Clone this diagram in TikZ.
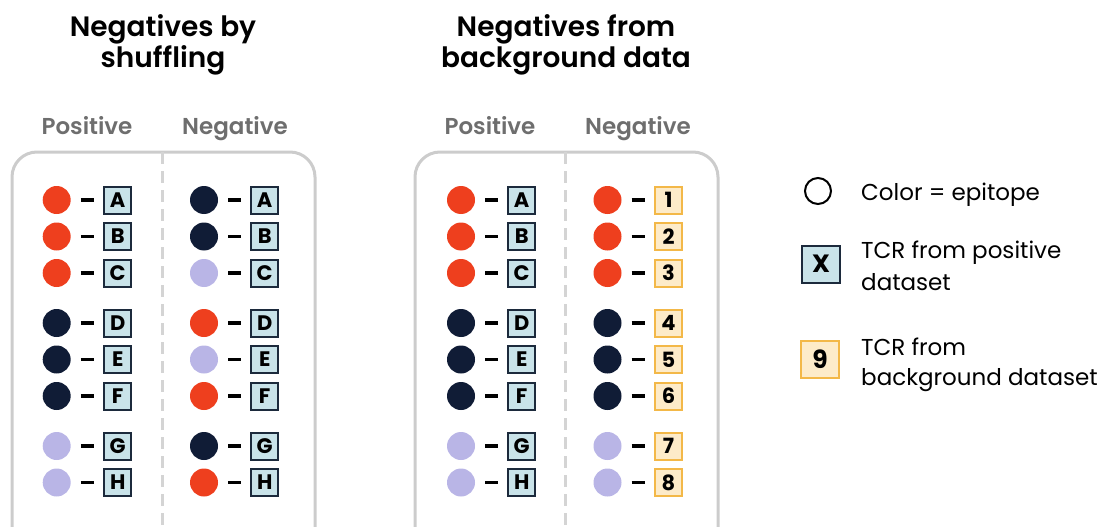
\documentclass[tikz,border=0pt]{standalone}
\usepackage{fontspec}
\setmainfont{Poppins}[BoldFont={Poppins SemiBold}]
\newfontfamily\heavyfont{Poppins Bold}
\definecolor{epired}{HTML}{EE3F1E}
\definecolor{epinavy}{HTML}{101C36}
\definecolor{epilav}{HTML}{B9B5E6}
\definecolor{boxblue}{HTML}{C9E3E9}
\definecolor{boxline}{HTML}{1C2A3C}
\definecolor{boxorange}{HTML}{F3B848}
\definecolor{boxcream}{HTML}{FDEBC9}
\definecolor{framegray}{HTML}{CCCCCC}
\definecolor{headgray}{HTML}{6E6E6E}
\begin{document}
\begin{tikzpicture}[x=1pt,y=-1pt,
  dot/.style={circle, minimum size=28pt, inner sep=0pt, draw=none},
  tcrbox/.style={rectangle, line width=2pt, minimum width=27pt, minimum height=27pt,
    inner sep=0pt, font=\fontsize{21}{21}\selectfont\heavyfont},
  posbox/.style={tcrbox, draw=boxline, fill=boxblue},
  bgbox/.style={tcrbox, draw=boxorange, fill=boxcream},
  legbox/.style={tcrbox, minimum width=38pt, minimum height=37pt,
    font=\fontsize{25}{25}\selectfont\heavyfont},
  link/.style={line width=3.5pt, shorten <=10pt, shorten >=9.5pt},
  frame/.style={draw=framegray, line width=3pt, rounded corners=25pt},
  divider/.style={draw=framegray!85, line width=3pt, dash pattern=on 12pt off 7pt},
  title/.style={anchor=base, font=\fontsize{28}{31}\selectfont\bfseries},
  colhead/.style={anchor=base, text=headgray, font=\fontsize{23}{24}\selectfont\bfseries},
  legtext/.style={anchor=base west, inner sep=0pt, font=\fontsize{23}{28}\selectfont},
]
\useasboundingbox (0,0) rectangle (1101,527);
\clip (0,0) rectangle (1101,527);

% titles
\node[title] (t1a) at (163,37) {Negatives by};
\node[title] (t1b) at (163,67) {shuffling};
\node[title] (t2a) at (566,37) {Negatives from};
\node[title] (t2b) at (566,67) {background data};

% column headers
\node[colhead] (h1p) at (87,135) {Positive};
\node[colhead] (h1n) at (235,135) {Negative};
\node[colhead] (h2p) at (490,135) {Positive};
\node[colhead] (h2n) at (638,135) {Negative};

% panel frames and dividers
\draw[frame] (12,152) rectangle (315,600);
\draw[frame] (415,152) rectangle (718,600);
\coordinate (d1top) at (162.3,152);
\coordinate (d1bot) at (162.3,530);
\coordinate (d2top) at (565,152);
\coordinate (d2bot) at (565,530);
\draw[divider] (d1top) -- (d1bot);
\draw[divider] (d2top) -- (d2bot);

% rows: y / label / positive epitope / shuffled epitope / background TCR
\foreach \y/\lab/\pcol/\ncol/\num [count=\i] in
  {200/A/epired/epinavy/1, 236.5/B/epired/epinavy/2, 273/C/epired/epilav/3,
   323/D/epinavy/epired/4, 359.5/E/epinavy/epilav/5, 396/F/epinavy/epired/6,
   446/G/epilav/epinavy/7, 482.5/H/epilav/epired/8}{
  % panel 1, positive
  \node[dot, fill=\pcol] (ap\i) at (56.7,\y) {};
  \node[posbox] (bp\i) at (117.7,\y) {\lab};
  \draw[link] (ap\i) -- (bp\i);
  % panel 1, negative (shuffled epitopes)
  \node[dot, fill=\ncol] (an\i) at (204,\y) {};
  \node[posbox] (bn\i) at (264.7,\y) {\lab};
  \draw[link] (an\i) -- (bn\i);
  % panel 2, positive
  \node[dot, fill=\pcol] (cp\i) at (461,\y) {};
  \node[posbox] (dp\i) at (521.7,\y) {\lab};
  \draw[link] (cp\i) -- (dp\i);
  % panel 2, negative (background TCRs)
  \node[dot, fill=\pcol] (cn\i) at (607.5,\y) {};
  \node[bgbox] (dn\i) at (668.5,\y) {\num};
  \draw[link] (cn\i) -- (dn\i);
}

% legend
\node[circle, draw=black, line width=2pt, minimum size=26pt, inner sep=0pt] (lg1) at (818,191) {};
\node[legtext] (lt1) at (861,200) {Color = epitope};
\node[legbox, draw=boxline, fill=boxblue] (lg2) at (821,264) {X};
\node[legtext] (lt2a) at (861,258.5) {TCR from positive};
\node[legtext] (lt2b) at (861,290) {dataset};
\node[legbox, draw=boxorange, fill=boxcream] (lg3) at (820,359) {9};
\node[legtext] (lt3a) at (861,355) {TCR from};
\node[legtext] (lt3b) at (861,385) {background dataset};
\end{tikzpicture}
\end{document}
